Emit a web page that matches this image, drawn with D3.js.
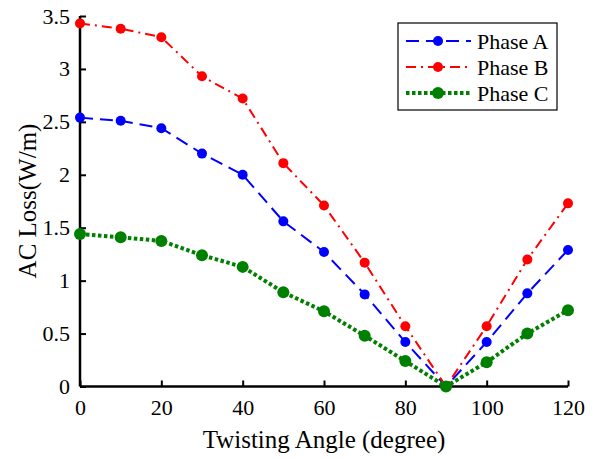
<!DOCTYPE html>
<html><head><meta charset="utf-8">
<script src="https://cdn.jsdelivr.net/npm/d3@7"></script>
<style>body{margin:0;background:#fff}svg{display:block}</style>
</head><body><svg id="c" width="595" height="459"></svg>
<script>
const angles = [0,10,20,30,40,50,60,70,80,90,100,110,120];
const phaseA = [2.54,2.51,2.44,2.20,2.00,1.56,1.27,0.87,0.42,0.0,0.42,0.88,1.29];
const phaseB = [3.43,3.38,3.30,2.93,2.72,2.11,1.71,1.17,0.57,0.0,0.57,1.20,1.73];
const phaseC = [1.44,1.41,1.375,1.24,1.13,0.89,0.71,0.48,0.24,0.0,0.23,0.50,0.72];
const xTicks = [0,20,40,60,80,100,120];
const yTicks = [0,0.5,1,1.5,2,2.5,3,3.5];
const seriesNames = ["Phase A","Phase B","Phase C"];

const svg = d3.select("#c");
const x = d3.scaleLinear().domain([0,120]).range([80,568]);
const y = d3.scaleLinear().domain([0,3.5]).range([386.5,16]);
const font = "Times New Roman";

const styles = [
  {color:"#0000ff", dash:"13,7", width:2, r:5},
  {color:"#ff0000", dash:"10,5,2,5", width:2, r:5},
  {color:"#008000", dash:"3.5,2.5", width:4, r:6}
];
const data = [phaseA, phaseB, phaseC];

// axes
const xAxis = d3.axisBottom(x).tickValues(xTicks).tickSize(-6).tickPadding(10).tickFormat(d3.format("d"));
const yAxis = d3.axisLeft(y).tickValues(yTicks).tickSize(-6).tickPadding(10).tickFormat(d=>d);
const gx = svg.append("g").attr("transform","translate(0,386.5)").call(xAxis);
const gy = svg.append("g").attr("transform","translate(80,0)").call(yAxis);
[gx,gy].forEach(g=>{
  g.attr("font-family",null).attr("font-size",null);
  g.select(".domain").attr("stroke","#000").attr("stroke-width",2.5);
  g.selectAll(".tick line").attr("stroke","#000").attr("stroke-width",2);
  g.selectAll(".tick text").style("font-family",font).style("font-size","22px").attr("fill","#000");
});
gy.select(".domain").attr("d","M0,386.5V16");
gx.select(".domain").attr("d","M80,0H568");
gx.selectAll(".tick text").attr("dy","0.85em");

// series
const line = d3.line().x((d,i)=>x(angles[i])).y(d=>y(d));
data.forEach((vals,k)=>{
  const s = styles[k];
  svg.append("path").datum(vals).attr("d",line).attr("fill","none")
    .attr("stroke",s.color).attr("stroke-width",s.width).attr("stroke-dasharray",s.dash);
  svg.append("g").selectAll("circle").data(vals).join("circle")
    .attr("cx",(d,i)=>x(angles[i])).attr("cy",d=>y(d)).attr("r",s.r).attr("fill",s.color);
});

// axis titles
svg.append("text").attr("x",324).attr("y",448).attr("text-anchor","middle")
  .style("font-family",font).style("font-size","25px").text("Twisting Angle (degree)");
svg.append("text").attr("transform","translate(36,201) rotate(-90)").attr("text-anchor","middle")
  .style("font-family",font).style("font-size","25px").text("AC Loss(W/m)");

// legend
const lg = svg.append("g");
lg.append("rect").attr("x",398).attr("y",23).attr("width",159).attr("height",87)
  .attr("fill","#fff").attr("stroke","#000").attr("stroke-width",1.2);
seriesNames.forEach((n,k)=>{
  const s = styles[k];
  const yy = 41 + k*26;
  lg.append("line").attr("x1",406).attr("x2",471).attr("y1",yy).attr("y2",yy)
    .attr("stroke",s.color).attr("stroke-width",s.width).attr("stroke-dasharray",s.dash);
  lg.append("circle").attr("cx",438).attr("cy",yy).attr("r",s.r).attr("fill",s.color);
  lg.append("text").attr("x",477).attr("y",yy).attr("dy","0.35em")
    .style("font-family",font).style("font-size","22px").text(n);
});
</script></body></html>
